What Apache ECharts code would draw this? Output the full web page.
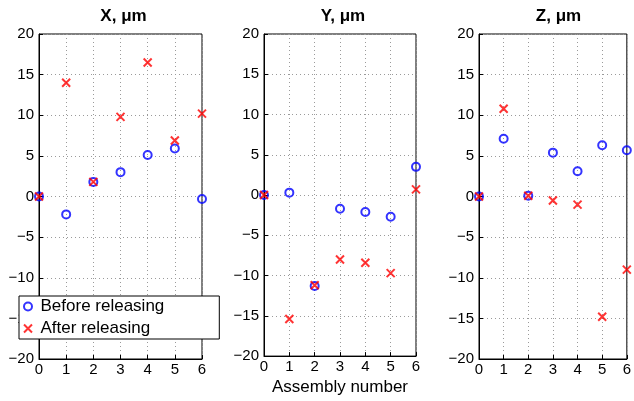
<!DOCTYPE html>
<html>
<head>
<meta charset="utf-8">
<script src="https://cdn.jsdelivr.net/npm/echarts@6/dist/echarts.min.js"></script>
<style>
html,body{margin:0;padding:0;background:#fff;}
#c{width:634px;height:401px;}
</style>
</head>
<body>
<div id="c"></div>
<script>
var assemblies = [0, 1, 2, 3, 4, 5, 6];
var panelTitles = ['X, \u03bcm', 'Y, \u03bcm', 'Z, \u03bcm'];
var seriesNames = ['Before releasing', 'After releasing'];
var xBefore = [0, -2.2, 1.8, 3.0, 5.1, 5.9, -0.3];
var xAfter  = [0, 14.0, 1.8, 9.8, 16.5, 6.9, 10.2];
var yBefore = [0, 0.3, -11.3, -1.7, -2.1, -2.7, 3.5];
var yAfter  = [0, -15.4, -11.2, -8.0, -8.4, -9.7, 0.7];
var zBefore = [0, 7.1, 0.1, 5.4, 3.1, 6.3, 5.7];
var zAfter  = [0, 10.8, 0.1, -0.5, -1.0, -14.8, -9.0];
var yTickValues = [-20, -15, -10, -5, 0, 5, 10, 15, 20];
var xLabel = 'Assembly number';

var FONT = 'Liberation Sans, Arial, Helvetica, sans-serif';
var CROSS = 'path://M0,0L10,10M10,0L0,10';
var befores = [xBefore, yBefore, zBefore];
var afters = [xAfter, yAfter, zAfter];
var grids = [
  {left: 39, top: 34, width: 163, height: 325},
  {left: 264, top: 34, width: 152, height: 325},
  {left: 479, top: 34, width: 153, height: 325}
];
function pairs(vals) { return assemblies.map(function (a, i) { return [a, vals[i]]; }); }
function fmt(v) { return String(v).replace('-', '\u2212'); }

var option = {
  animation: false,
  backgroundColor: '#fff',
  textStyle: {fontFamily: FONT},
  title: grids.map(function (g, i) {
    return {
      text: panelTitles[i], left: g.left + g.width / 2 + 3, top: 8, padding: 0,
      textAlign: 'center',
      textStyle: {fontFamily: FONT, fontSize: 17, fontWeight: 'bold', color: '#000'}
    };
  }),
  grid: grids.map(function (g) {
    return {left: g.left, top: g.top, width: g.width, height: g.height,
      show: true, borderColor: '#000', borderWidth: 1, backgroundColor: 'transparent'};
  }),
  xAxis: grids.map(function (g, i) {
    return {
      type: 'value', gridIndex: i, min: 0, max: 6, interval: 1,
      name: i === 1 ? xLabel : '', nameLocation: 'middle', nameGap: 15,
      nameTextStyle: {fontFamily: FONT, fontSize: 17, color: '#000'},
      axisLine: {show: true, onZero: false, lineStyle: {color: '#000', width: 1}},
      axisTick: {show: true, inside: true, length: 4, lineStyle: {color: '#000'}},
      axisLabel: {fontFamily: FONT, fontSize: 15, color: '#000', margin: 3},
      splitLine: {show: true, lineStyle: {color: '#9a9a9a', width: 1, type: [1, 3]}}
    };
  }),
  yAxis: grids.map(function (g, i) {
    return {
      type: 'value', gridIndex: i, min: -20, max: 20, interval: 5,
      axisLine: {show: true, onZero: false, lineStyle: {color: '#000', width: 1}},
      axisTick: {show: true, inside: true, length: 4, lineStyle: {color: '#000'}},
      axisLabel: {fontFamily: FONT, fontSize: 15, color: '#000', margin: 5,
        formatter: function (v) { return yTickValues.indexOf(v) >= 0 ? fmt(v) : ''; }},
      splitLine: {show: true, lineStyle: {color: '#9a9a9a', width: 1, type: [1, 3]}}
    };
  }),
  legend: {
    left: 19, top: 296, orient: 'vertical',
    padding: [2, 55, 2, 4], itemGap: 5, itemWidth: 15, itemHeight: 8,
    backgroundColor: '#fff', borderColor: '#000', borderWidth: 1, borderRadius: 0,
    textStyle: {fontFamily: FONT, fontSize: 17, color: '#000'},
    data: [
      {name: seriesNames[0], icon: 'circle',
        itemStyle: {color: 'rgba(0,0,0,0)', borderColor: '#0000ff', borderWidth: 2}},
      {name: seriesNames[1], icon: CROSS,
        itemStyle: {color: '#ff0000', borderColor: '#ff0000', borderWidth: 2}}
    ],
    z: 20
  },
  series: []
};

for (var i = 0; i < 3; i++) {
  option.series.push({
    name: seriesNames[0], type: 'scatter', xAxisIndex: i, yAxisIndex: i,
    symbol: 'circle', symbolSize: 8, clip: false,
    itemStyle: {color: 'rgba(0,0,0,0)', borderColor: '#0000ff', borderWidth: 2},
    data: pairs(befores[i]), z: 3
  });
  option.series.push({
    name: seriesNames[1], type: 'scatter', xAxisIndex: i, yAxisIndex: i,
    symbol: CROSS, symbolSize: 8, clip: false,
    itemStyle: {color: '#ff0000', borderColor: '#ff0000', borderWidth: 2},
    data: pairs(afters[i]), z: 4
  });
}

var chart = echarts.init(document.getElementById('c'), null, {renderer: 'canvas'});
chart.setOption(option);
</script>
</body>
</html>
